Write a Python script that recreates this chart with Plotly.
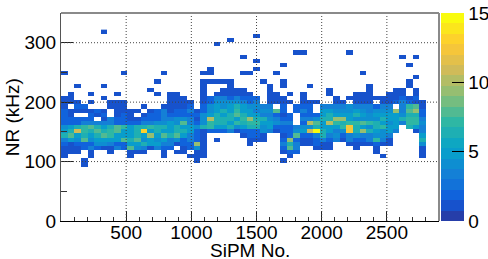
import plotly.graph_objects as go

x_bin_width = 2900 / 57
y_bin_width = 7
bottom_row = 13
# Hand-read counts per bin, top row (r=45) to bottom row (r=13); '.' = empty, hex digit = count
count_rows = [
 "......1... .......... .......... .......... .......... .....",
 ".......... .......... .........1 .......... .......... .....",
 ".......... .......... .....1.... .......... .......... .....",
 ".......... .......... ...1...... .......... .......... .....",
 ".......... .......... .......... .......... .......... .....",
 ".......... .......... .......... .....11... ...1...... .....",
 ".......... .......... .......1.. .......... .......... .1.1.",
 ".......... .......... .........1 .......... .......... .....",
 ".......... .......... .......... ...1...... .......... ..1..",
 ".......... .......... ..1......1 .......... .......... .....",
 "1........1 .....1.... .11....11. ..1....... .....1.... .....",
 ".......... .......... .......... .......... .......... ...1.",
 ".......... ....1..... .11111.... 1..1...... .......... ..1..",
 "..1...1... .......... .1...1.... .1.1...1.. ......1... ..1..",
 ".......... ...1...... .1..1111.. .1........ 1.....1... 11.1.",
 ".1..1...1. ....1.11.. .1.111111. .11.1.1... 1...111..1 11.1.",
 "11....1... ......111. .123323222 .111..1... .1.1111111 1212.",
 "111.1..111 ......1111 .124444323 .1111.111. .11.111.11 23211",
 "1.22...111 ..1..11112 .245456544 33.2.222.3 3334333233 .3781",
 "2111121.11 11.1231223 1245657553 4482.232.5 5444543444 93892",
 "21..212.12 1.12232222 2456568655 33212.2225 6555654555 54662",
 "22222.1322 1122233443 14a6665796 64322.3346 6995444465 56773",
 "2223333322 2233445483 2476657677 55433.2a85 a767787654 53774",
 "4567865687 5667665655 4675564566 4522234465 557c654675 5.653",
 "56b7686785 56d5655665 2122231222 4312245bf6 534c696545 3..13",
 "6856568755 5659586853 21.....122 1..1282236 3423433443 ....5",
 "3548455558 6845453423 21.1....11 1..2921123 2313223731 ....6",
 "2122244322 5565533122 91......1. ...3631121 1..1111211 ....4",
 "1112321132 8431322.12 41........ ...283..11 1...1..1.. ....1",
 "111.1..1.. 111..1.11. 11........ ...122.... .......1.. ....1",
 "1...1..... 1....1...1 11........ ....1..... ........1. ....1",
 "...1...... .......... 1......... ...1...... .......... .....",
 "...1...... .......... .......... .......... .......... .....",
]
x_ticks = [500, 1000, 1500, 2000, 2500]
y_ticks = [0, 100, 200, 300]
z_ticks = [0, 5, 10, 15]

bird_stops = [0.0, 0.125, 0.25, 0.375, 0.5, 0.625, 0.75, 0.875, 1.0]
bird_r = [0.2082, 0.0592, 0.0780, 0.0232, 0.1802, 0.5301, 0.8186, 0.9956, 0.9764]
bird_g = [0.1664, 0.3599, 0.5041, 0.6419, 0.7178, 0.7492, 0.7328, 0.7862, 0.9832]
bird_b = [0.5293, 0.8684, 0.8385, 0.7914, 0.6425, 0.4662, 0.3499, 0.1968, 0.0539]
n_levels = 20


def lerp(t, vals):
    for i in range(len(bird_stops) - 1):
        if t <= bird_stops[i + 1]:
            f = (t - bird_stops[i]) / (bird_stops[i + 1] - bird_stops[i])
            return vals[i] + f * (vals[i + 1] - vals[i])
    return vals[-1]


colorscale = []
for i in range(n_levels):
    t = (i + 0.99) / n_levels
    c = "rgb(%d,%d,%d)" % tuple(round(255 * lerp(t, v)) for v in (bird_r, bird_g, bird_b))
    colorscale += [[i / n_levels, c], [(i + 1) / n_levels, c]]

z = [[None] * 55 for _ in range(bottom_row)]
for row in reversed(count_rows):
    s = row.replace(" ", "")
    z.append([None if ch == "." else int(ch, 16) for ch in s])

font = dict(family="Liberation Sans", size=19, color="black")
fig = go.Figure(go.Heatmap(
    z=z, x0=x_bin_width / 2, dx=x_bin_width, y0=y_bin_width / 2, dy=y_bin_width,
    zmin=0, zmax=15, colorscale=colorscale, hoverongaps=False, hoverinfo="skip",
    colorbar=dict(
        x=1.006, xanchor="left", y=0, yanchor="bottom", len=1, thickness=23,
        xpad=0, ypad=0, outlinewidth=0, ticks="inside", ticklen=12, tickwidth=1,
        tickcolor="black", tickvals=z_ticks, tickfont=font),
))
grid = dict(color="#444444", width=1, dash="1px,2px")
shapes = [dict(type="line", xref="x", yref="paper", x0=v, x1=v, y0=0, y1=1, line=grid, layer="above")
          for v in x_ticks]
shapes += [dict(type="line", xref="paper", yref="y", x0=0, x1=1, y0=v, y1=v, line=grid, layer="above")
           for v in y_ticks[1:]]
border = dict(color="#8a8a8a", width=2)
shapes += [dict(type="line", xref="paper", yref="paper", x0=0, x1=1, y0=1, y1=1, line=border, layer="above"),
           dict(type="line", xref="paper", yref="paper", x0=1, x1=1, y0=0, y1=1, line=border, layer="above")]
fig.update_layout(
    width=488, height=259, autosize=False, paper_bgcolor="white", plot_bgcolor="white",
    margin=dict(l=60.7, r=49, t=13, b=38, autoexpand=False), shapes=shapes, font=font,
    xaxis=dict(range=[0, 2900], tickvals=x_ticks, ticks="inside", ticklen=10, tickcolor="#222222",
               showline=True, linecolor="black", linewidth=1, showgrid=False, zeroline=False,
               automargin=False, ticklabelstandoff=-6,
               minor=dict(dtick=100, ticks="inside", ticklen=4, tickcolor="#333333"),
               tickfont=font),
    yaxis=dict(range=[0, 350], tickvals=y_ticks, ticks="inside", ticklen=12, tickcolor="#222222",
               showline=True, linecolor="#555555", linewidth=1, showgrid=False, zeroline=False,
               automargin=False,
               minor=dict(dtick=50, ticks="inside", ticklen=6, tickcolor="#333333"),
               tickfont=font),
    annotations=[
        dict(text="SiPM No.", xref="paper", yref="paper", x=0.5, y=-0.14, xanchor="center", yanchor="middle",
             showarrow=False, font=font),
        dict(text="NR (kHz)", xref="paper", yref="paper", x=-0.129, y=0.5, xanchor="center", yanchor="middle",
             textangle=-90, showarrow=False, font=font),
    ],
)
fig.write_html("out.html", config={"displayModeBar": False},
               post_script="document.body.style.margin='0';")
